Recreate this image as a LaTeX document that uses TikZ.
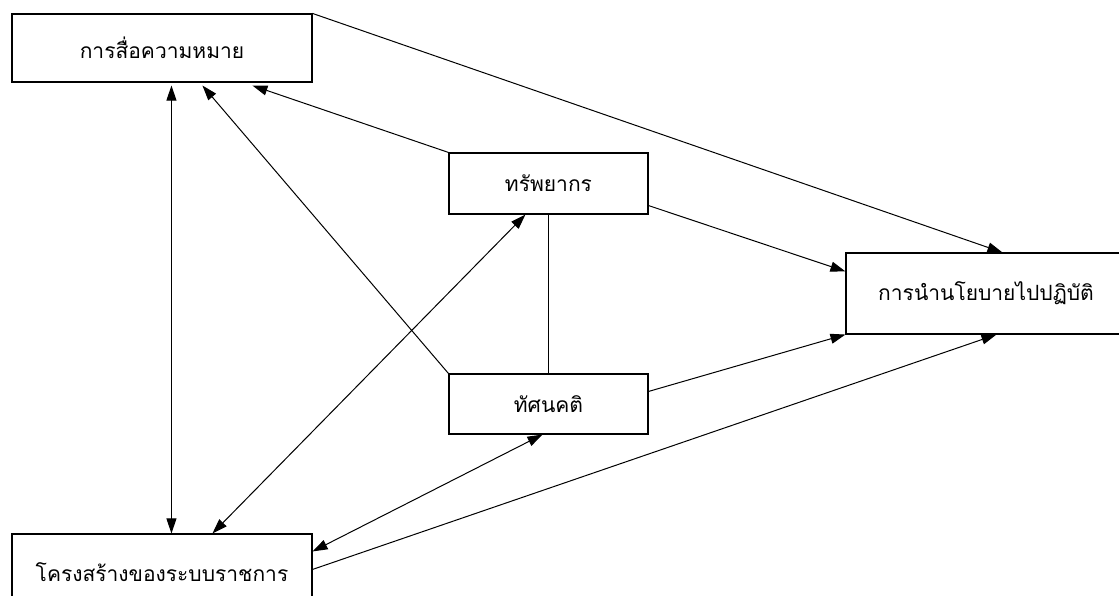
\documentclass[tikz,border=0pt]{standalone}
\usepackage{fontspec}
\newfontfamily\thaifont[Script=Thai]{Loma}
\usetikzlibrary{arrows.meta}
\begin{document}
\begin{tikzpicture}[x=1pt,y=-1pt,
    box/.style={draw, line width=1.1pt, inner sep=0pt, font=\thaifont\fontsize{21}{24}\selectfont},
    link/.style={line width=1pt},
    arr/.style={link, -{Triangle[length=15pt,width=10pt]}},
    darr/.style={link, {Triangle[length=15pt,width=10pt]}-{Triangle[length=15pt,width=10pt]}}]
  \useasboundingbox (0,0) rectangle (1119,596);
  \node [box, minimum width=300pt, minimum height=68pt] (comm) at (162,48) {การสื่อความหมาย};
  \node [box, minimum width=199pt, minimum height=61pt] (res) at (548.5,183.5) {ทรัพยากร};
  \node [box, minimum width=199pt, minimum height=60pt] (att) at (548.5,404) {ทัศนคติ};
  \node [box, minimum width=280pt, minimum height=81pt] (impl) at (986,293.5) {การนำนโยบายไปปฏิบัติ};
  \node [box, minimum width=300pt, minimum height=76pt] (struct) at (162,572) {โครงสร้างของระบบราชการ};
  % links
  \draw [darr] ([xshift=160pt,yshift=-3pt]comm.south west) -- ([xshift=160pt]struct.north west);
  \draw [arr] (att.north west) -- ([xshift=191pt,yshift=-3pt]comm.south west);
  \draw [arr] (res.north west) -- ([xshift=241pt,yshift=-3pt]comm.south west);
  \draw [arr] (comm.north east) -- ([xshift=157pt]impl.north west);
  \draw [arr] ([yshift=9pt]res.south east) -- ([yshift=-19pt]impl.north west);
  \draw [arr] ([yshift=-18pt]att.north east) -- (impl.south west);
  \draw [arr] ([yshift=-36pt]struct.north east) -- ([xshift=151pt]impl.south west);
  \draw [link] (res.south) -- (att.north);
  \draw [darr] ([xshift=77pt]res.south west) -- ([xshift=201pt]struct.north west);
  \draw [darr] ([xshift=94pt]att.south west) -- ([yshift=-18pt]struct.north east);
\end{tikzpicture}
\end{document}
